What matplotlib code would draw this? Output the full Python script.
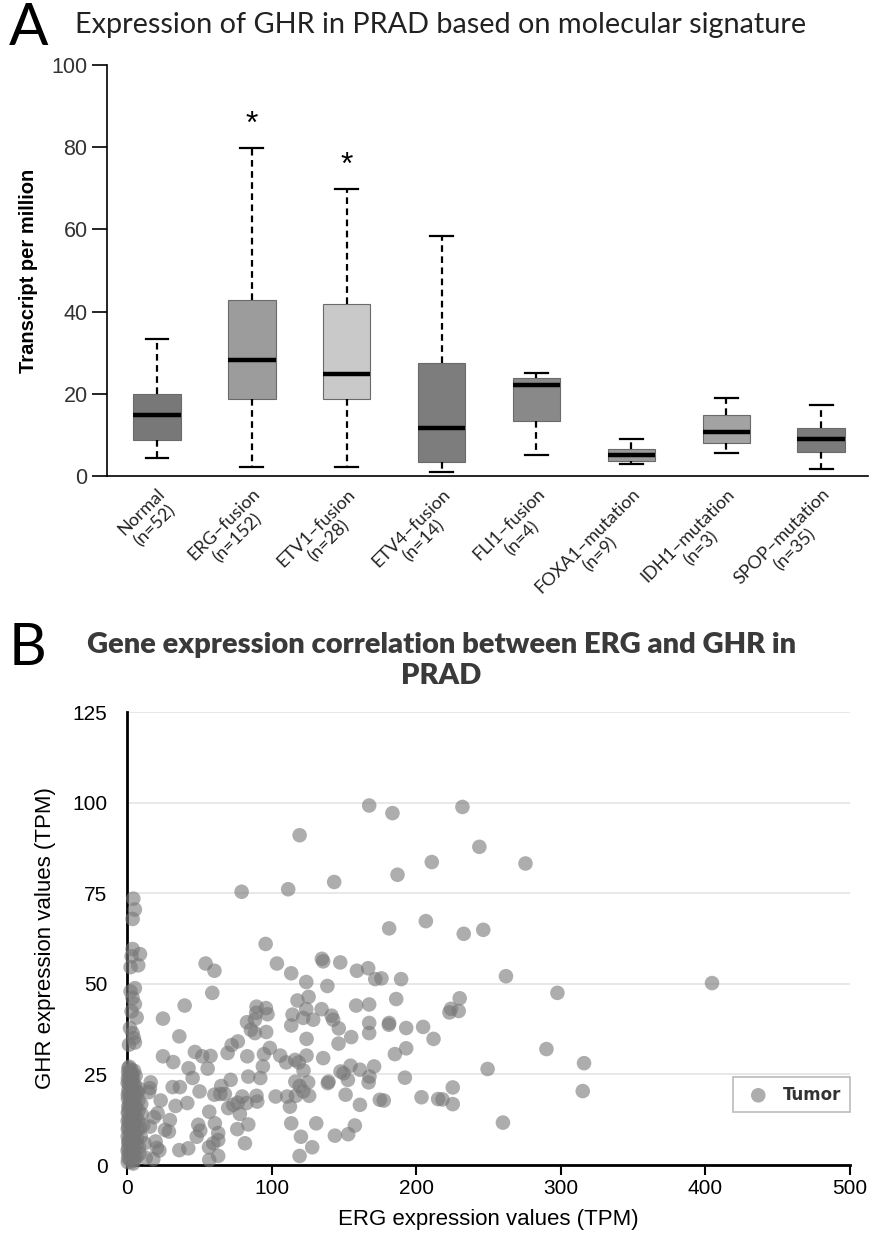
import matplotlib
matplotlib.use('Agg')
import matplotlib.pyplot as plt
import numpy as np

# panel A: box summaries
groups = ['Normal\n(n=52)', 'ERG–fusion\n(n=152)', 'ETV1–fusion\n(n=28)', 'ETV4–fusion\n(n=14)',
          'FLI1–fusion\n(n=4)', 'FOXA1–mutation\n(n=9)', 'IDH1–mutation\n(n=3)', 'SPOP–mutation\n(n=35)']
whis_lo = [4.3, 2.2, 2.2, 1.0, 5.0, 3.0, 5.7, 1.8]
q1 = [8.8, 18.8, 18.8, 3.4, 13.5, 3.7, 8.0, 5.8]
med = [14.9, 28.2, 24.7, 11.7, 22.1, 5.2, 10.6, 9.1]
q3 = [19.9, 42.9, 41.8, 27.4, 23.8, 6.6, 14.8, 11.6]
whis_hi = [33.4, 79.8, 69.7, 58.5, 25.1, 8.9, 19.0, 17.2]
box_colors = ['#787878', '#9c9c9c', '#c9c9c9', '#7d7d7d', '#898989', '#9a9a9a', '#a3a3a3', '#7b7b7b']
signif = [False, True, True, False, False, False, False, False]

# panel B: ERG vs GHR (TPM), dense cluster near ERG ~ 0
erg_low = [0.6, 2.1, 4.3, 1.2, 6.5, 3.0, 0.8, 5.2, 2.4, 8.3, 1.5, 4.0, 0.5, 6.9, 3.3, 1.9, 5.6, 0.9, 9.1, 2.7,
           4.6, 1.1, 7.5, 3.6, 0.6, 5.0, 2.2, 10.2, 1.4, 6.1, 3.9, 0.7, 8.0, 2.5, 4.8, 1.0, 6.7, 3.1, 0.5, 5.5,
           2.0, 1.3, 4.2, 0.8, 2.9, 1.7, 3.5, 0.6, 2.3, 3.7, 7.1, 5.9, 1.6, 4.5, 9.6, 0.9, 2.6, 6.3, 3.2, 1.8,
           5.3, 11.3, 0.7, 4.1, 2.8, 7.9, 1.2, 3.4, 0.5, 6.0, 2.2, 8.7, 4.9, 1.5, 3.8, 0.8, 5.7, 2.4, 12.1, 1.1,
           3.0, 7.3, 0.6, 4.4, 2.0, 9.9, 1.4, 5.1, 3.6, 0.9, 6.6, 2.7, 1.0, 4.7, 8.4, 0.5, 3.3, 13.0, 2.1, 5.8,
           4.4, 5.5, 3.9, 3.9, 9.0, 3.2, 7.8, 2.5, 5.5, 2.5, 3.9, 5.5, 3.2, 6.7, 2.1, 3.9, 4.8, 1.4, 5.5]
ghr_low = [0.8, 1.5, 0.4, 2.9, 2.2, 3.7, 4.6, 4.1, 5.5, 5.0, 6.8, 6.2, 7.9, 7.3, 8.6, 9.4, 9.0, 10.5, 10.1, 11.2,
           11.9, 12.8, 12.3, 13.6, 14.4, 14.9, 15.7, 14.0, 16.6, 16.2, 17.4, 18.3, 17.9, 19.0, 19.8, 20.7, 20.4, 21.5, 22.6, 22.1,
           23.4, 24.5, 24.0, 25.6, 26.3, 27.1, 25.2, 19.4, 13.1, 4.9, 9.7, 18.6, 11.6, 2.8, 7.8, 16.0, 21.9, 13.4, 0.9, 8.2,
           6.9, 11.0, 23.8, 15.4, 17.0, 15.1, 5.9, 10.8, 12.1, 24.6, 3.3, 3.1, 26.0, 20.0, 22.9, 1.9, 11.4, 7.1, 6.0, 14.7,
           18.9, 19.9, 9.9, 8.4, 25.9, 16.8, 22.2, 1.4, 12.6, 6.4, 5.6, 16.4, 26.8, 21.2, 21.0, 3.9, 24.8, 2.0, 18.0, 15.8,
           73.5, 70.5, 67.9, 59.6, 58.2, 57.6, 55.1, 54.6, 48.8, 47.9, 46.1, 44.4, 42.4, 40.7, 37.8, 36.4, 35.0, 33.2, 33.8]

erg_high = [167.5, 183.6, 119.4, 210.8, 187.1, 143.3, 79.3, 111.5, 206.7, 181.3, 95.9, 134.8, 135.7, 147.5, 103.7,
            54.4, 60.5, 113.6, 159.0, 166.8, 171.7, 176.0, 189.6, 124.0, 138.6, 59.0, 117.9, 125.6, 186.2, 39.9,
            89.6, 96.1, 158.5, 167.5, 124.0, 134.6, 24.9, 83.0, 89.4, 97.2, 88.5, 114.5, 121.9, 128.8, 141.5,
            142.6, 181.3, 181.1, 167.5, 113.6, 85.7, 88.5, 96.3, 146.5, 167.5, 193.1, 204.8, 36.2, 124.2, 155.1,
            212.0, 146.3, 76.7, 72.4, 69.6, 98.8, 47.0, 52.1, 57.8, 24.9, 32.0, 83.2, 94.7, 106.0, 124.2,
            135.7, 185.3, 193.1, 110.1, 116.3, 118.8, 42.6, 55.8, 94.0, 122.1, 147.7, 154.6, 161.1, 170.9, 45.4,
            71.7, 83.9, 92.2, 116.4, 125.3, 139.4, 138.9, 149.8, 152.8, 167.7, 167.1, 192.2, 16.4, 15.9, 31.6,
            36.6, 50.2, 65.2, 64.5, 67.7, 60.4, 119.4, 121.9, 126.0, 151.2, 174.9, 177.6, 203.7, 215.2, 23.3,
            41.7, 33.6, 76.6, 79.7, 82.7, 89.6, 90.1, 102.8, 110.8, 116.8, 70.0, 73.5, 112.7, 161.1, 21.2,
            29.7, 56.9, 78.1, 83.9, 49.3, 50.7, 60.8, 113.6, 130.9, 157.6, 29.0, 48.2, 63.1, 63.1, 76.3,
            81.6, 120.3, 143.8, 153.0, 36.2, 42.4, 56.7, 59.7, 128.1, 18.2, 56.9, 63.1, 119.4, 22.4, 19.8,
            15.9, 18.7, 15.2, 26.3, 20.7,
            232.0, 243.7, 275.6, 232.9, 246.4, 262.1, 404.6, 297.7, 230.1, 224.1, 229.4, 223.0, 290.1, 316.1,
            249.4, 225.3, 315.2, 218.2, 225.3, 260.0]
ghr_high = [99.2, 97.1, 91.0, 83.6, 80.1, 78.1, 75.4, 76.1, 67.3, 65.3, 61.0, 56.9, 56.2, 55.9, 55.6,
            55.6, 53.6, 52.9, 53.6, 54.3, 51.3, 51.5, 51.3, 50.5, 49.4, 47.5, 45.4, 46.4, 45.8, 44.0,
            43.7, 43.3, 44.0, 44.3, 43.0, 43.0, 40.4, 39.4, 42.0, 41.6, 40.1, 41.5, 40.6, 40.1, 41.2,
            40.1, 39.2, 38.7, 39.2, 38.5, 37.3, 36.4, 36.7, 37.7, 36.4, 37.8, 38.1, 35.5, 34.8, 35.3,
            34.8, 33.5, 34.1, 33.1, 30.9, 32.3, 31.2, 30.0, 30.1, 30.0, 28.4, 30.0, 30.6, 30.2, 30.2,
            29.5, 30.6, 32.2, 28.3, 29.0, 28.3, 26.7, 26.6, 27.2, 26.1, 25.8, 27.4, 26.3, 27.2, 24.0,
            23.5, 24.4, 24.0, 23.0, 22.8, 23.0, 22.6, 25.3, 23.5, 24.4, 22.8, 24.1, 22.8, 21.2, 21.5,
            21.5, 20.3, 21.8, 19.6, 19.6, 19.4, 21.8, 20.3, 19.1, 19.4, 18.0, 17.8, 18.7, 18.2, 17.8,
            17.1, 16.3, 17.2, 18.9, 17.1, 19.1, 17.5, 18.9, 18.9, 19.1, 15.7, 16.6, 16.1, 16.6, 14.3,
            12.4, 14.7, 14.1, 11.2, 11.1, 9.5, 11.5, 11.5, 11.5, 10.9, 9.2, 7.8, 8.8, 6.9, 9.9,
            6.0, 7.8, 8.1, 8.5, 4.1, 4.6, 4.9, 6.0, 4.9, 1.6, 1.4, 2.5, 2.5, 4.0, 6.5,
            10.6, 13.2, 20.1, 9.7, 4.7,
            98.8, 87.8, 83.2, 63.8, 64.9, 52.1, 50.2, 47.5, 46.0, 43.1, 42.5, 42.1, 32.0, 28.1,
            26.5, 21.4, 20.4, 18.1, 16.8, 11.7]

erg = np.array(erg_low + erg_high)
ghr = np.array(ghr_low + ghr_high)

fig = plt.figure(figsize=(8.69, 12.37), dpi=100)

# ---------------- panel A ----------------
ax1 = fig.add_axes([0.1231, 0.6152, 0.8759, 0.3323])
pos = np.arange(1, len(groups) + 1)
stats = []
for i in range(len(groups)):
    stats.append(dict(med=med[i], q1=q1[i], q3=q3[i], whislo=whis_lo[i], whishi=whis_hi[i], fliers=[]))
bp = ax1.bxp(stats, positions=pos, widths=0.5, capwidths=0.24, patch_artist=True, showfliers=False,
             boxprops=dict(edgecolor='#6a6a6a', linewidth=0.8),
             whiskerprops=dict(color='black', linewidth=1.6, linestyle=(0, (3, 2))),
             capprops=dict(color='black', linewidth=1.6),
             medianprops=dict(color='black', linewidth=3.2, solid_capstyle='butt'))
for patch, c in zip(bp['boxes'], box_colors):
    patch.set_facecolor(c)
for i in range(len(groups)):
    if signif[i]:
        ax1.text(pos[i], whis_hi[i] + 2.0, '*', ha='center', va='bottom', fontsize=23,
                 family=['Liberation Sans', 'DejaVu Sans'])
ax1.set_xlim(0.474, 8.495)
ax1.set_ylim(0, 100)
ax1.spines['top'].set_visible(False)
ax1.spines['right'].set_visible(False)
ax1.spines['left'].set_linewidth(1.2)
ax1.spines['bottom'].set_linewidth(1.2)
ax1.set_yticks([0, 20, 40, 60, 80, 100])
ax1.tick_params(axis='y', length=11, width=1.2, labelsize=15.5, pad=3)
ax1.tick_params(axis='x', length=0, pad=7)
for lab in ax1.get_yticklabels():
    lab.set_family(['Liberation Sans Narrow', 'Liberation Sans'])
    lab.set_color('#333333')
ax1.set_xticks(pos)
ax1.set_xticklabels(groups, rotation=45, ha='right', rotation_mode='anchor', ma='center',
                    fontsize=13, family=['Lato', 'DejaVu Sans'], color='#222222')
ax1.set_ylabel('Transcript per million', fontsize=14.5, fontweight='bold',
               family=['Liberation Sans', 'DejaVu Sans'], labelpad=10)

fig.text(0.010, 0.9985, 'A', fontsize=42, va='top', ha='left', family=['Lato', 'DejaVu Sans'])
fig.text(0.086, 0.980, 'Expression of GHR in PRAD based on molecular signature', fontsize=20.8,
         va='center', ha='left', family=['Lato', 'DejaVu Sans'], color='#222222')

# ---------------- panel B ----------------
ax2 = fig.add_axes([0.1461, 0.0582, 0.8320, 0.3662])
ax2.scatter(erg, ghr, s=110, color='#777777', alpha=0.6, edgecolors='none', label='Tumor',
            zorder=3, clip_on=False)
ax2.set_xlim(0, 500)
ax2.set_ylim(0, 125)
ax2.set_yticks([0, 25, 50, 75, 100, 125])
ax2.set_xticks([0, 100, 200, 300, 400, 500])
ax2.yaxis.grid(True, color='#e4e4e4', linewidth=1.2)
ax2.set_axisbelow(True)
ax2.spines['top'].set_visible(False)
ax2.spines['right'].set_visible(False)
ax2.spines['left'].set_linewidth(2)
ax2.spines['bottom'].set_linewidth(2)
ax2.tick_params(axis='y', length=0, labelsize=15, pad=14)
ax2.tick_params(axis='x', length=7, width=1.5, labelsize=15, pad=3)
for lab in ax2.get_xticklabels() + ax2.get_yticklabels():
    lab.set_family(['Liberation Sans', 'DejaVu Sans'])
ax2.set_xlabel('ERG expression values (TPM)', fontsize=16, family=['Liberation Sans', 'DejaVu Sans'],
               labelpad=8)
ax2.set_ylabel('GHR expression values (TPM)', fontsize=16, family=['Liberation Sans', 'DejaVu Sans'],
               labelpad=12)
leg = ax2.legend(loc='lower right', bbox_to_anchor=(1.0, 0.117), borderaxespad=0, fancybox=False,
                 frameon=True, edgecolor='#aaaaaa', handletextpad=0.5, borderpad=0.5,
                 prop=dict(family=['DejaVu Sans'], weight='bold', size=12))
leg.get_frame().set_linewidth(1.2)
for t in leg.get_texts():
    t.set_color('#333333')

fig.text(0.010, 0.497, 'B', fontsize=42, va='top', ha='left', family=['Lato', 'DejaVu Sans'])
fig.text(0.508, 0.466, 'Gene expression correlation between ERG and GHR in\nPRAD', fontsize=21,
         fontweight='heavy', ha='center', va='center', linespacing=1.2,
         family=['Lato', 'DejaVu Sans'], color='#3a3a3a')

fig.savefig('out.png', dpi=100)
plt.close(fig)
